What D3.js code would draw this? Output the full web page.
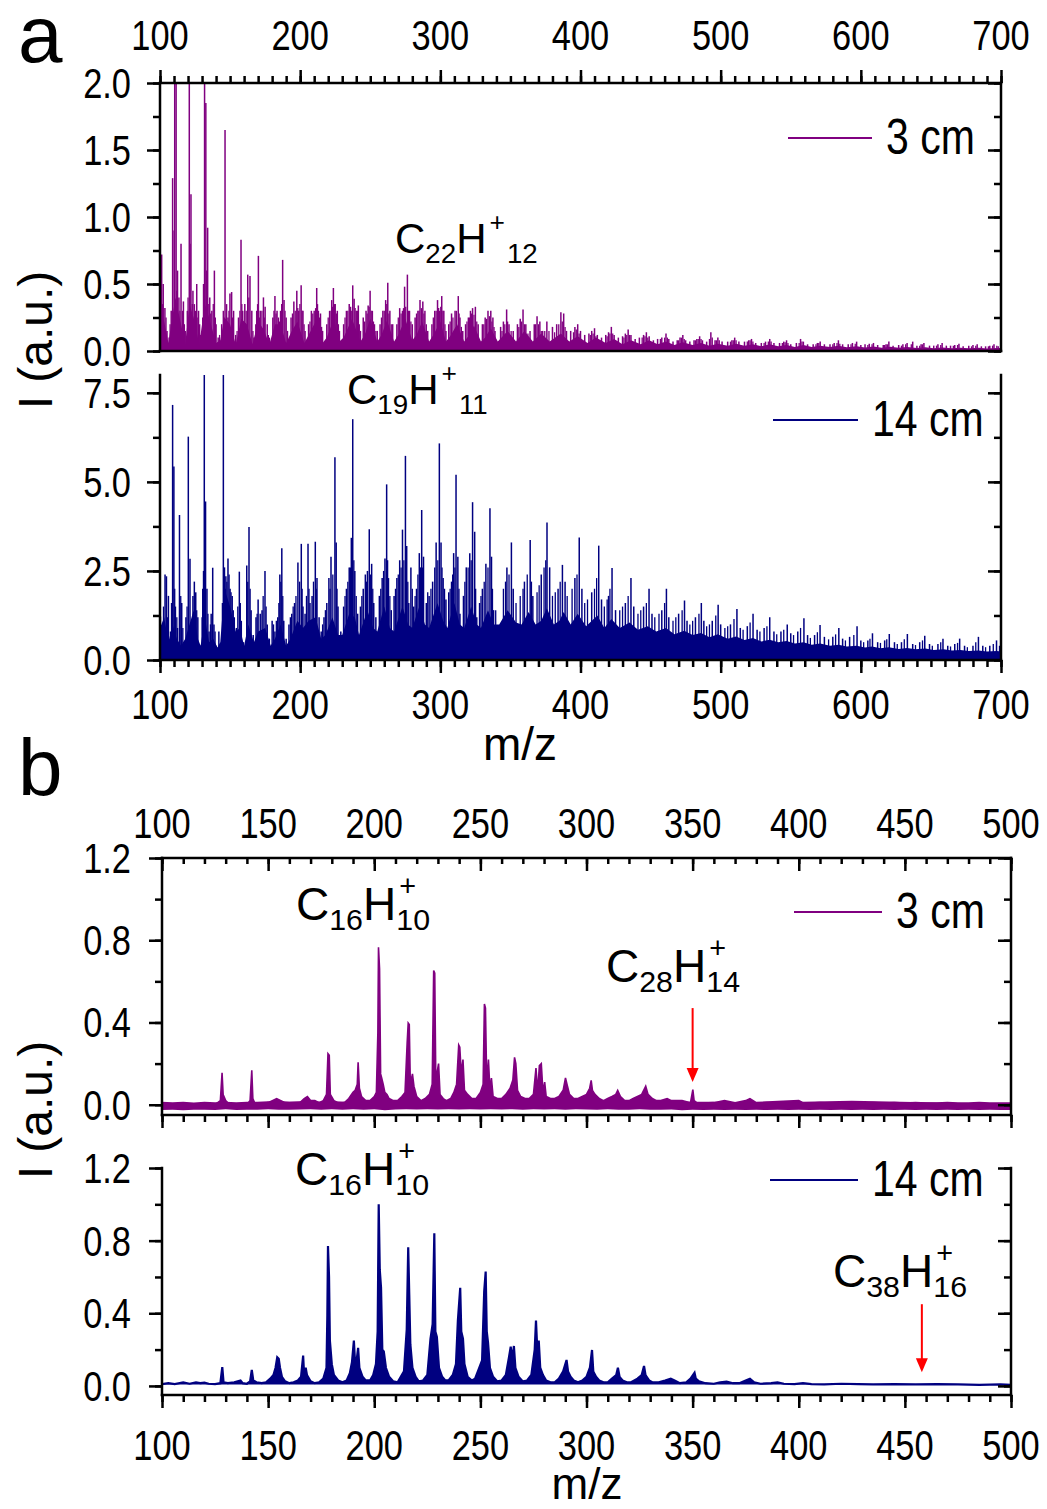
<!DOCTYPE html>
<html>
<head>
<meta charset="utf-8">
<script src="https://cdn.jsdelivr.net/npm/d3@7"></script>
<style>
  body { margin: 0; background: #fff; }
  svg { display: block; }
</style>
</head>
<body>
<svg id="fig" width="1047" height="1509"></svg>
<script>
// ---------------- data ----------------
var xTicksA = [100, 200, 300, 400, 500, 600, 700];
var xTicksB = [100, 150, 200, 250, 300, 350, 400, 450, 500];
var yTicksA3 = [0, 0.5, 1.0, 1.5, 2.0];
var yLabelsA3 = ["0.0", "0.5", "1.0", "1.5", "2.0"];
var yTicksA14 = [0, 2.5, 5.0, 7.5];
var yLabelsA14 = ["0.0", "2.5", "5.0", "7.5"];
var yTicksB = [0, 0.4, 0.8, 1.2];
var yLabelsB = ["0.0", "0.4", "0.8", "1.2"];
var seriesNames = ["3 cm", "14 cm"];

// panel a, 3 cm: main peak sticks [m/z, I]
var peaksA3 = [
  [100.5,0.5],[101.2,0.72],[102.3,0.5],[103.5,0.32],[105,0.15],[106.5,0.1],
  [108,0.3],[109,1.29],[110.5,2.6],[111.5,2.4],[112.5,0.6],[113.5,0.4],[115,0.8],[116.7,0.37],[118,0.15],
  [119.5,0.3],[120.9,2.6],[122.1,1.17],[123.5,0.45],[124.5,0.35],[126.2,0.5],[127.5,0.3],[129,0.12],
  [130.5,0.25],[131.8,2.6],[132.7,1.85],[134,0.92],[135.5,0.4],[137,0.3],[138.8,0.6],[140,0.2],[141.5,0.1],
  [144,0.2],[145.2,0.3],[146.4,1.65],[147.5,0.35],[148.5,0.25],[149.9,0.43],[151.1,0.44],[152.5,0.3],[154,0.12],
  [156,0.25],[157.8,0.83],[159,0.3],[160.5,0.35],[162.6,0.57],[164.2,0.56],[165.5,0.3],[167,0.1],
  [169,0.3],[170.2,0.71],[171.5,0.3],[173.8,0.4],[175,0.33],[176.5,0.2],[178,0.1],
  [180.5,0.25],[182,0.41],[183.5,0.3],[186,0.3],[187.5,0.68],[188.5,0.38],[190,0.25],
  [193.5,0.25],[195.5,0.37],[197.6,0.45],[199,0.3],[200.7,0.49],[202,0.3],[203.5,0.15],
  [206,0.2],[208,0.3],[210,0.3],[211.8,0.47],[213,0.3],[214.5,0.28],[216,0.15],
  [219,0.2],[221,0.3],[222.5,0.38],[223.7,0.47],[225,0.35],[226.5,0.3],[228,0.15],
  [231,0.2],[233,0.3],[235,0.35],[237.5,0.49],[238.5,0.39],[240,0.3],[241.5,0.34],[243,0.15],
  [245,0.25],[247,0.3],[248.5,0.34],[249.9,0.45],[251.5,0.3],[253,0.2],[255,0.15],
  [257,0.2],[259,0.3],[261,0.38],[262.5,0.51],[264,0.3],[266,0.2],
  [269,0.2],[271,0.32],[273,0.3],[274.5,0.48],[276.5,0.57],[278,0.3],[280,0.2],
  [282,0.25],[284,0.3],[285.5,0.38],[287.5,0.37],[289,0.3],[291,0.15],
  [294,0.2],[296,0.3],[298,0.38],[299.5,0.3],[301,0.41],[302.5,0.3],[304,0.15],
  [306,0.2],[308,0.28],[310.5,0.3],[312.8,0.41],[314,0.25],[316,0.15],
  [318,0.2],[320,0.25],[321.5,0.3],[323,0.32],[325,0.33],[327,0.2],
  [330,0.2],[332,0.25],[334,0.3],[336,0.3],[337.5,0.25],[339,0.15],
  [343,0.18],[345,0.22],[347.3,0.31],[349,0.2],[352,0.15],
  [355,0.2],[357,0.24],[359,0.31],[361,0.2],[364,0.15],
  [367,0.2],[369,0.26],[371,0.22],[373,0.15],[376,0.22],
  [380,0.18],[383,0.2],[386,0.29],[388,0.28],[390,0.15],
  [393,0.15],[396,0.18],[398,0.2],[400,0.15],[403,0.12],
  [406,0.13],[408,0.15],[410,0.17],[412,0.12],[415,0.1],
  [418,0.12],[420,0.14],[422,0.18],[424,0.12],[427,0.1],
  [430,0.11],[432,0.13],[434,0.16],[436,0.12],[439,0.09],
  [442,0.1],[445,0.12],[447,0.14],[449,0.11],[452,0.08],
  [455,0.09],[458,0.1],[461,0.13],[463,0.09],[466,0.07],
  [469,0.08],[471,0.1],[473,0.12],[475,0.08],[478,0.07],
  [481,0.08],[483,0.09],[485,0.11],[487,0.08],[490,0.07],
  [493,0.14],[496,0.08],[498,0.1],[501,0.07],
  [505,0.07],[508,0.08],[510,0.1],[513,0.07],
  [517,0.07],[520,0.08],[522,0.09],[525,0.06],
  [529,0.06],[532,0.07],[535,0.09],[538,0.06],
  [542,0.06],[545,0.07],[547,0.08],[550,0.05],
  [554,0.06],[557,0.09],[559,0.07],[562,0.05],
  [566,0.05],[569,0.06],[571,0.07],[574,0.05],
  [578,0.05],[581,0.06],[584,0.08],[587,0.05],
  [591,0.05],[594,0.06],[597,0.07],[600,0.045],
  [603,0.05],[606,0.055],[609,0.06],[612,0.045],
  [616,0.045],[618,0.05],[620,0.07],[623,0.04],
  [627,0.045],[630,0.05],[633,0.06],[637,0.07],
  [640,0.04],[643,0.05],[645,0.06],[649,0.04],
  [652,0.04],[655,0.05],[658,0.06],[661,0.04],
  [664,0.04],[667,0.045],[670,0.055],[673,0.035],
  [677,0.04],[680,0.045],[683,0.05],[686,0.035],
  [689,0.035],[692,0.04],[695,0.05],[698,0.035]
];
// panel a, 3 cm: smaller peaks filling the clusters
var minorA3 = [
  [101.8,0.35],[104.3,0.25],[107.2,0.2],[110,0.9],[112,0.45],[114.2,0.3],[116,0.3],[117.4,0.2],[120,0.4],[121.5,0.8],
  [123,0.35],[125.3,0.3],[127,0.25],[128.3,0.2],[131,0.5],[133.3,0.6],[134.8,0.35],[136.2,0.28],[138,0.35],[139.5,0.25],
  [142.5,0.12],[145.8,0.25],[149.2,0.3],[151.8,0.25],[155,0.15],[157,0.3],[158.4,0.35],[161.5,0.3],[163.4,0.4],[166.3,0.15],
  [168.3,0.2],[169.6,0.35],[171,0.25],[172.7,0.3],[174.4,0.25],[177.3,0.12],[181.3,0.3],[182.8,0.28],[184.5,0.25],[185.2,0.22],
  [186.8,0.35],[189.2,0.3],[191,0.15],[194.5,0.28],[196.5,0.3],[198.3,0.32],[199.8,0.35],[201.4,0.3],[202.8,0.2],[207,0.22],
  [209,0.28],[211,0.32],[212.4,0.35],[213.8,0.25],[215.3,0.18],[220,0.25],[222,0.3],[223,0.33],[224.4,0.35],[225.8,0.28],
  [227.3,0.2],[232,0.25],[234,0.3],[236,0.33],[236.8,0.3],[239.2,0.32],[240.8,0.3],[242.2,0.2],[246,0.22],[247.8,0.28],
  [249.2,0.33],[250.7,0.3],[252.3,0.22],[254,0.15],[258,0.25],[260,0.3],[261.8,0.35],[263.3,0.28],[265,0.2],[270,0.25],
  [272,0.28],[273.7,0.32],[275.3,0.33],[277.3,0.3],[279,0.22],[283,0.28],[284.8,0.3],[286.5,0.32],[288.3,0.28],[290,0.2],
  [295,0.25],[297,0.3],[298.8,0.32],[300.3,0.33],[301.8,0.3],[303.3,0.2],[307,0.22],[309,0.25],[311.5,0.3],[313.4,0.28],
  [315,0.18],[319,0.22],[320.8,0.25],[322.3,0.28],[324,0.27],[326,0.22],[331,0.2],[333,0.24],[335,0.26],[336.8,0.22],
  [338.3,0.18],[344,0.15],[346,0.2],[348,0.22],[350.5,0.15],[356,0.18],[358,0.22],[360,0.2],[362.5,0.13],[368,0.2],
  [370,0.2],[372,0.15],[374.5,0.15],[377.5,0.15],[381.5,0.14],[384.5,0.2],[387,0.22],[389,0.18],[395,0.14],[397,0.16],
  [399,0.13],[407,0.12],[409,0.13],[411,0.11],[419,0.11],[421,0.13],[423,0.13],[431,0.1],[433,0.12],[435,0.12],
  [444,0.1],[446,0.11],[448,0.1],[457,0.09],[460,0.1],[462,0.1],[470,0.08],[472,0.1],[474,0.09],[482,0.08],
  [484,0.09],[486,0.09],[492,0.09],[494,0.1],[497,0.08],[499,0.08],[507,0.07],[509,0.08],[511,0.08],[519,0.07],
  [521,0.08],[523,0.07],[531,0.06],[534,0.07],[536,0.07],[544,0.06],[546,0.065],[548,0.06],[556,0.06],[558,0.07],
  [568,0.05],[570,0.06],[580,0.05],[583,0.06],[585,0.055],[593,0.05],[596,0.055],[605,0.045],[608,0.05],[617,0.045],
  [619,0.05],[629,0.04],[632,0.05],[636,0.05],[642,0.04],[644,0.05],[654,0.04],[657,0.045],[666,0.04],[669,0.045],
  [679,0.035],[682,0.04],[691,0.035],[694,0.04],[697,0.04]
];
// panel a, 3 cm: top of the solid band under the peaks
var floorA3 = [
  [100,0.3],[103,0.22],[106,0.06],[108,0.2],[111,0.4],[114,0.25],[118,0.05],[121,0.35],[124,0.25],[128,0.05],
  [132,0.35],[135,0.25],[140,0.06],[143,0.08],[146,0.25],[150,0.2],[154,0.05],[158,0.24],[162,0.2],[166,0.05],
  [170,0.22],[174,0.16],[178,0.05],[182,0.2],[186,0.2],[190,0.06],[194,0.15],[198,0.22],[203,0.06],[206,0.12],
  [211,0.22],[216,0.06],[219,0.1],[224,0.24],[228,0.07],[231,0.1],[237,0.24],[243,0.07],[246,0.12],[250,0.24],
  [255,0.07],[258,0.12],[262,0.23],[267,0.07],[270,0.12],[275,0.24],[280,0.08],[283,0.12],[287,0.22],[292,0.07],
  [295,0.12],[300,0.22],[304,0.07],[307,0.11],[312,0.2],[317,0.07],[320,0.11],[324,0.19],[329,0.07],[332,0.1],
  [336,0.17],[341,0.07],[348,0.15],[354,0.07],[360,0.15],[366,0.07],[372,0.13],[378,0.07],[386,0.13],[392,0.07],
  [398,0.11],[405,0.06],[411,0.1],[418,0.06],[424,0.09],[430,0.05],[436,0.08],[443,0.05],[449,0.08],[455,0.05],
  [461,0.07],[467,0.045],[473,0.065],[480,0.045],[486,0.06],[492,0.04],[498,0.055],[505,0.04],[511,0.055],[517,0.04],
  [523,0.05],[529,0.035],[535,0.05],[541,0.035],[547,0.045],[553,0.03],[559,0.045],[565,0.03],[571,0.04],[578,0.03],
  [584,0.04],[590,0.028],[597,0.035],[603,0.026],[609,0.033],[615,0.025],[621,0.032],[627,0.024],[633,0.03],[640,0.022],
  [646,0.028],[652,0.021],[658,0.027],[665,0.02],[671,0.025],[677,0.02],[684,0.024],[690,0.019],[697,0.022],[700,0.022]
];

// panel a, 14 cm: main peak sticks [m/z, I]
var peaksA14 = [
  [100.3,1.22],[101.5,0.6],[103.6,2.4],[104.6,2.35],[106,1.8],[107.5,0.8],[109,7.16],[109.9,5.43],[111,1.5],[112.5,0.9],
  [113.9,4.07],[115.5,1.6],[117,0.5],[118.5,1.2],[120.2,6.27],[121.4,2.84],[122.3,0.5],[123.5,1.8],[124.5,2.2],[125.5,1.9],
  [127,1.2],[128.5,0.4],[130.5,2.0],[131.6,9],[132.5,4.45],[133.5,2.0],[135,0.8],[136.5,1.3],[137.6,2.59],[138.5,1.0],
  [140,0.4],[142,0.8],[143.5,0.4],[145.2,9],[146,2.6],[147,2.35],[148.5,2.85],[150,2.0],[151.5,1.8],[153,1.2],
  [154.5,0.9],[156.6,2.48],[158,1.1],[159.5,0.5],[161.9,2.65],[163.5,3.73],[165,1.4],[166.5,0.7],[168.5,1.2],[170,1.7],
  [171.5,1.3],[172.8,1.4],[174.9,2.5],[176.5,1.0],[178,0.6],[180,1.1],[182,0.8],[184,1.2],[185.5,2.4],[186.9,3.14],
  [188.3,1.1],[190,0.6],[192,1.0],[194,1.3],[196,1.6],[198.4,2.74],[200.8,3.26],[202,1.5],[203.5,1.3],[205.6,3.26],
  [207,1.6],[208.5,1.8],[210.8,3.32],[212,2.3],[213.5,1.2],[215,0.8],[217,1.2],[219,1.6],[220.5,2.3],[222,2.9],
  [224.8,5.69],[225.7,3.3],[227,1.5],[229,0.8],[231,1.5],[233,2.0],[235,2.6],[236.5,3.43],[237.5,6.76],[239,2.5],
  [241,1.3],[243,1.5],[245,2.0],[246.5,2.4],[248,2.5],[249.3,3.67],[251,2.7],[252.5,1.6],[254,1.2],[256.5,1.8],
  [258.5,2.3],[260.5,2.85],[261.7,4.93],[263,2.3],[265,1.4],[267,1.8],[269,2.3],[271,2.8],[273,3.66],[275.1,5.73],
  [276,3.2],[277.5,1.6],[279,2.6],[281,1.5],[283,2.0],[285,3.0],[286.7,4.21],[288,2.9],[290,1.6],[292,1.8],
  [294.5,2.2],[297,3.3],[299.3,6.08],[300.5,3.3],[302,2.3],[304,1.7],[306,1.9],[308,2.2],[309.5,3.0],[311.2,5.2],
  [312.5,2.9],[314,1.3],[316.5,1.8],[318.5,2.6],[321,3.0],[323,4.43],[324.5,3.6],[326,1.2],[328,1.6],[330,2.0],
  [332.5,2.7],[335.4,4.26],[336.5,2.9],[338,1.4],
  [347.5,2.6],[350.7,3.3],[352,2.0],[360,2.2],[364.1,3.37],[366,1.8],[372,2.4],[376.1,3.86],[378,2.6],[384,2.0],
  [387.1,2.67],[389,2.2],[396,2.3],[399.1,3.44],[401,2.0],[408,1.9],[413,3.21],[415,1.7],[420,1.8],[422.5,2.58],
  [425,1.4],[432,1.6],[436,2.3],[438,1.5],[445,1.5],[448.9,2.0],[451,1.3],[458,1.4],[461.3,2.0],[463,1.2],
  [470,1.3],[474.2,1.67],[476,1.1],[482,1.2],[486.2,1.6],[488,1.1],[494,1.1],[498.2,1.55],[500,1.0],[507,1.0],
  [511.6,1.43],[514,0.9],[519,0.95],[523.1,1.3],[526,0.85],[531,0.9],[535,1.2],[538,0.8],[543,0.8],[547.5,1.0],
  [550,0.75],[555,0.8],[559.4,1.17],[562,0.7],[567,0.7],[570.9,0.98],[574,0.65],[580,0.65],[584.3,0.9],[587,0.6],
  [592,0.65],[597.3,0.95],[600,0.55],[605,0.55],[608.3,0.75],[612,0.5],[617,0.55],[620.3,0.73],[624,0.5],[629,0.5],
  [633.2,0.73],[637,0.45],[642,0.5],[645.6,0.68],[649,0.45],[655,0.45],[658.6,0.6],[662,0.4],[667,0.45],[670.5,0.6],
  [674,0.4],[680,0.4],[683.9,0.65],[687,0.4],[692,0.4],[696.8,0.55],[699,0.4]
];
var minorA14 = [
  [102.5,1.5],[105.3,1.2],[108.2,1.6],[110.5,2.0],[112,1.2],[114.8,1.8],[116.3,0.9],[119.3,1.5],[122.8,1.0],[126.2,1.4],
  [130,1.2],[131,2.5],[134.2,1.3],[136,1.0],[139.3,0.8],[144.5,1.6],[146.6,2.0],[147.7,2.2],[149.3,2.4],[150.7,1.9],
  [152.3,1.4],[155.5,1.5],[157.3,1.6],[162.6,2.2],[164.3,2.0],[169.3,1.3],[173.6,1.8],[175.7,1.5],[181,1.0],[183,1.1],
  [184.8,1.6],[186.2,2.2],[187.6,1.8],[193,1.2],[195,1.5],[197,1.8],[199.6,2.2],[201.4,2.0],[204.5,1.8],[206.3,2.0],
  [209.5,2.2],[211.5,2.0],[216,1.0],[218,1.4],[221.3,2.0],[223.3,2.4],[226.3,2.0],[232,1.8],[234,2.2],[235.8,2.6],
  [238.3,2.8],[240,1.8],[244,1.8],[247.3,2.2],[250.3,2.4],[251.8,2.0],[257.5,2.0],[259.5,2.5],[262.4,2.8],[264,1.8],
  [268,2.0],[270,2.4],[272,2.6],[274,2.8],[276.8,2.2],[280,2.0],[282,1.8],[284,2.4],[285.8,2.6],[287.4,2.6],
  [291,1.9],[293.3,2.0],[296,2.6],[298.2,2.8],[301.2,2.6],[303,2.0],[307,2.0],[308.8,2.4],[310.4,2.6],[313.3,2.0],
  [317.5,2.2],[319.8,2.6],[322,2.8],[325.2,2.0],[329,1.8],[331.3,2.2],[334,2.6],[337.2,2.0],[339.5,1.4],
  [345,2.0],[346.5,2.2],[349,2.4],[354,1.6],[357,1.8],[359,2.0],[362,2.4],[365,2.2],[369,1.9],[370.5,2.1],
  [374,2.6],[375.2,2.8],[380,1.8],[382,1.9],[385.5,2.2],[390.5,1.8],[394,2.0],[397.5,2.4],[403,1.6],[405,1.7],
  [410,2.0],[411.5,2.3],[417,1.5],[419,1.7],[421,2.0],[428,1.4],[430,1.5],[434,1.8],[441,1.3],[443,1.4],
  [447,1.6],[453,1.2],[456,1.3],[460,1.6],[466,1.1],[468,1.2],[472.5,1.4],[478,1.0],[480,1.1],[484.5,1.3],
  [490,0.95],[492,1.0],[496.5,1.25],[503,0.9],[505,0.95],[509.5,1.15],[516,0.85],[521,1.05],[528,0.8],[533,0.95],
  [540,0.72],[545,0.85],[552,0.7],[557,0.9],[564,0.62],[569,0.78],[577,0.58],[582,0.72],[589,0.55],[595,0.7],
  [602,0.5],[606.5,0.6],[614,0.48],[618.5,0.58],[626,0.45],[631,0.58],[639,0.42],[644,0.55],[651,0.4],[657,0.5],
  [664,0.38],[669,0.48],[676,0.36],[682,0.5],[689,0.36],[694.5,0.45]
];
var floorA14 = [
  [100,0.9],[103,1.2],[106,0.5],[109,1.0],[112,0.6],[115,0.4],[118,0.6],[121,1.0],[124,1.4],[127,0.6],
  [129,0.4],[132,1.2],[135,0.5],[138,0.6],[141,0.35],[143,0.5],[146,2.0],[150,1.5],[154,0.8],[157,0.9],
  [160,0.4],[163,1.0],[167,0.5],[170,0.8],[175,0.9],[179,0.4],[182,0.6],[186,1.0],[190,0.4],[193,0.6],
  [198,1.1],[202,0.9],[206,1.1],[211,1.2],[215,0.6],[218,0.7],[223,1.2],[227,0.7],[230,0.7],[235,1.3],
  [239,1.2],[242,0.7],[248,1.4],[252,0.9],[255,0.8],[260,1.5],[264,0.9],[267,0.8],[273,1.5],[277,1.0],
  [280,0.9],[285,1.5],[289,1.0],[292,0.9],[298,1.6],[302,1.1],[305,0.9],[310,1.6],[314,1.0],[317,0.9],
  [322,1.5],[326,1.0],[329,0.9],[334,1.4],[338,1.0],[342,1.0],[348,1.4],[354,1.05],[358,1.0],[363,1.35],
  [368,1.0],[372,1.1],[376,1.45],[381,1.0],[385,1.1],[388,1.35],[393,1.0],[398,1.3],[404,0.95],[412,1.25],
  [417,0.9],[422,1.15],[428,0.9],[435,1.05],[441,0.85],[448,0.95],[454,0.8],[461,0.9],[467,0.72],[474,0.82],
  [480,0.7],[486,0.76],[492,0.64],[498,0.72],[505,0.6],[511,0.66],[517,0.56],[523,0.62],[529,0.52],[535,0.57],
  [541,0.5],[547,0.53],[553,0.46],[559,0.5],[565,0.43],[571,0.46],[578,0.4],[584,0.43],[590,0.38],[597,0.4],
  [603,0.35],[608,0.38],[614,0.33],[620,0.36],[627,0.31],[633,0.34],[639,0.3],[646,0.32],[652,0.28],[659,0.3],
  [665,0.27],[671,0.28],[677,0.25],[684,0.27],[690,0.24],[697,0.25],[700,0.24]
];

// panel b, 3 cm: trace [m/z, I] and noise band [m/z, low, high]
var traceB3 = [
  [100,0],[125,0],[127.5,0.02],[128.3,0.155],[128.8,0.05],[130,0.02],[132,0],[140,0],[141.5,0.02],[142.3,0.167],
  [142.8,0.03],[144,0],[150,0.01],[152,0.02],[154,0.03],[156,0.02],[158,0.01],[165,0.01],[167,0.03],[168.5,0.04],
  [170,0.02],[172,0.02],[174,0.01],[176,0.02],[177.5,0.05],[178.2,0.248],[178.8,0.24],[179.3,0.05],[181,0.02],[183,0.01],
  [186,0.01],[188,0.03],[190,0.06],[191,0.07],[192,0.1],[192.4,0.206],[193,0.08],[194,0.04],[196,0.02],[198,0.02],
  [200,0.04],[201,0.06],[201.7,0.35],[202,0.766],[202.5,0.66],[203,0.15],[203.5,0.13],[204.2,0.1],[205,0.06],[206,0.05],
  [207,0.03],[209,0.02],[211,0.02],[213,0.04],[214.5,0.06],[215.5,0.3],[216,0.397],[216.5,0.39],[217,0.1],[218,0.15],
  [218.7,0.09],[220,0.04],[222,0.02],[224,0.03],[226,0.05],[227.3,0.1],[228,0.653],[228.5,0.64],[229,0.12],[230.3,0.2],
  [231,0.05],[232.5,0.03],[234,0.02],[236,0.03],[237.5,0.06],[238.8,0.1],[239.8,0.29],[240.3,0.28],[241,0.15],[241.8,0.22],
  [242.5,0.07],[244,0.05],[246,0.03],[248,0.03],[250,0.06],[251.3,0.1],[251.9,0.49],[252.4,0.47],[253,0.1],[253.8,0.22],
  [254.5,0.07],[255.2,0.13],[256,0.04],[258,0.03],[260,0.03],[262,0.05],[264,0.08],[265.3,0.12],[266.1,0.23],[266.7,0.2],
  [267.5,0.07],[269,0.04],[271,0.03],[273,0.03],[275,0.05],[276.2,0.178],[277,0.06],[277.8,0.19],[278.7,0.2],[279.5,0.06],
  [280.3,0.11],[281,0.04],[283,0.03],[285,0.03],[287,0.04],[289,0.07],[290.1,0.13],[290.8,0.1],[292,0.05],[294,0.03],
  [296,0.03],[298,0.04],[300,0.05],[301.5,0.08],[302.2,0.118],[302.8,0.07],[304,0.05],[306,0.03],[308,0.02],[310,0.03],
  [312,0.04],[313.8,0.05],[314.7,0.07],[316,0.04],[318,0.02],[320,0.02],[322,0.03],[324,0.04],[326,0.05],[327.9,0.09],
  [329,0.05],[331,0.03],[333,0.02],[335,0.02],[338,0.03],[340,0.02],[345,0.02],[349,0.01],[350.1,0.073],[350.7,0.02],
  [352,0.01],[360,0.01],[365,0.02],[370,0.01],[375,0.02],[377,0.03],[380,0.01],[400,0.02],[402,0.01],[425,0.015],[500,0]
];
var noiseB3 = [
  [100,-0.026,0.014],[105,-0.024,0.012],[110,-0.027,0.015],[115,-0.025,0.011],[120,-0.024,0.014],[125,-0.026,0.012],
  [130,-0.022,0.015],[135,-0.026,0.012],[140,-0.024,0.015],[145,-0.025,0.014],[150,-0.022,0.017],[155,-0.024,0.018],
  [160,-0.025,0.015],[165,-0.023,0.017],[170,-0.022,0.018],[175,-0.024,0.015],[180,-0.022,0.017],[185,-0.024,0.015],
  [190,-0.022,0.018],[195,-0.025,0.015],[200,-0.022,0.018],[205,-0.027,0.016],[210,-0.023,0.018],[215,-0.022,0.018],
  [220,-0.023,0.017],[225,-0.022,0.018],[230,-0.023,0.018],[235,-0.022,0.018],[240,-0.023,0.018],[245,-0.022,0.018],
  [250,-0.023,0.017],[255,-0.022,0.018],[260,-0.023,0.017],[265,-0.022,0.018],[270,-0.025,0.015],[275,-0.022,0.018],
  [280,-0.023,0.016],[285,-0.022,0.015],[290,-0.025,0.016],[295,-0.022,0.015],[300,-0.023,0.016],[305,-0.025,0.014],
  [310,-0.022,0.016],[315,-0.024,0.014],[320,-0.025,0.014],[325,-0.022,0.016],[330,-0.024,0.014],[335,-0.025,0.014],
  [340,-0.023,0.016],[345,-0.027,0.014],[350,-0.024,0.014],[355,-0.026,0.012],[360,-0.024,0.014],[365,-0.026,0.014],
  [370,-0.024,0.012],[375,-0.026,0.014],[380,-0.024,0.012],[385,-0.026,0.014],[390,-0.024,0.012],[395,-0.026,0.014],
  [400,-0.024,0.014],[405,-0.026,0.012],[410,-0.024,0.014],[415,-0.026,0.012],[420,-0.024,0.014],[425,-0.026,0.014],
  [430,-0.024,0.012],[435,-0.026,0.014],[440,-0.024,0.012],[445,-0.026,0.014],[450,-0.024,0.012],[455,-0.026,0.014],
  [460,-0.024,0.012],[465,-0.026,0.012],[470,-0.024,0.014],[475,-0.026,0.012],[480,-0.024,0.012],[485,-0.026,0.014],
  [490,-0.024,0.012],[495,-0.026,0.012],[500,-0.026,0.012]
];

// panel b, 14 cm: trace [m/z, I]
var traceB14 = [
  [100,0.01],[103,0.015],[106,0.01],[110,0.02],[113,0.012],[116,0.02],[118,0.015],[120,0.018],[122,0.012],[125,0.01],
  [127.5,0.015],[128.4,0.103],[129,0.02],[131,0.015],[134,0.02],[137,0.03],[138,0.015],[140,0.012],[141.5,0.025],[142.3,0.088],
  [143,0.03],[144.5,0.02],[147,0.015],[149,0.02],[151,0.04],[152.5,0.06],[153.5,0.1],[154.3,0.158],[155,0.15],[155.6,0.1],
  [156.5,0.05],[158,0.025],[160,0.015],[162,0.02],[164,0.03],[165.5,0.05],[166.5,0.167],[167,0.05],[167.7,0.1],[168.3,0.06],
  [170,0.025],[172,0.015],[174,0.02],[176,0.04],[177.5,0.1],[177.9,0.39],[178.2,0.77],[178.7,0.6],[179.1,0.25],[180,0.12],
  [181,0.06],[183,0.03],[185,0.02],[187,0.03],[188.5,0.07],[189.5,0.13],[190.4,0.25],[191,0.12],[191.8,0.15],[192.4,0.21],
  [193,0.1],[194.5,0.05],[196,0.03],[198,0.03],[199.5,0.06],[200.8,0.12],[201.6,0.3],[202.1,1.0],[202.6,0.64],[203.2,0.54],
  [203.8,0.2],[204.5,0.19],[205.5,0.1],[207,0.05],[209,0.025],[211,0.02],[212.5,0.05],[214,0.08],[215.3,0.31],[216,0.763],
  [216.5,0.5],[217,0.23],[218,0.1],[219.5,0.05],[221,0.025],[223,0.03],[225,0.06],[226.5,0.26],[227.5,0.34],[228.3,0.84],
  [228.8,0.3],[229.5,0.27],[230.5,0.1],[232,0.05],[233.5,0.03],[235,0.03],[237,0.06],[238.5,0.12],[239.4,0.36],[240.5,0.54],
  [241,0.3],[241.8,0.26],[242.5,0.12],[244,0.05],[246,0.03],[247.5,0.04],[249.5,0.1],[250.8,0.14],[251.8,0.52],[252.5,0.63],
  [253,0.3],[253.6,0.24],[254.5,0.1],[256,0.05],[258,0.025],[260,0.03],[262,0.06],[263.5,0.16],[264.3,0.216],[265,0.14],
  [265.8,0.22],[266.5,0.1],[268,0.05],[270,0.025],[272,0.03],[274,0.06],[275.6,0.2],[276.2,0.36],[276.8,0.2],[277.5,0.25],
  [278.2,0.1],[279.5,0.06],[281,0.03],[283,0.02],[285,0.02],[287,0.04],[289,0.08],[290.6,0.143],[291.3,0.08],[292.5,0.05],
  [294,0.03],[296,0.02],[298,0.03],[300,0.05],[301.6,0.1],[302.6,0.198],[303.2,0.08],[304.5,0.05],[306,0.03],[308,0.02],
  [310,0.02],[312,0.04],[314,0.06],[314.8,0.1],[315.6,0.05],[317,0.03],[319,0.02],[321,0.02],[324,0.04],[326,0.06],
  [327.1,0.11],[327.8,0.06],[329.5,0.03],[331,0.02],[334,0.02],[337,0.03],[339.7,0.04],[341.5,0.03],[344,0.015],[347,0.02],
  [349,0.04],[350.9,0.073],[351.5,0.04],[353,0.025],[356,0.015],[360,0.012],[363,0.02],[366,0.024],[369,0.015],[372,0.015],
  [375,0.03],[377,0.04],[379,0.02],[382,0.012],[387,0.015],[390,0.02],[393,0.012],[398,0.01],[402,0.015],[406,0.01],
  [412,0.008],[420,0.012],[428,0.01],[435,0.008],[445,0.01],[455,0.008],[465,0.01],[475,0.008],[485,0.006],[495,0.008],[500,0.006]
];

// formula labels and red arrows
var labelsA = [
  { n1: "22", n2: "12", x: 395, y: 253 },
  { n1: "19", n2: "11", x: 347, y: 404 }
];
var labelsB = [
  { n1: "16", n2: "10", x: 296, y: 920 },
  { n1: "28", n2: "14", x: 606, y: 982 },
  { n1: "16", n2: "10", x: 295, y: 1185 },
  { n1: "38", n2: "16", x: 833, y: 1287 }
];
var arrowsB = [
  { panel: "b3", mz: 350, from: 0.47, to: 0.11 },
  { panel: "b14", mz: 458, from: 0.45, to: 0.075 }
];

// ---------------- setup ----------------
var purple = "#800080", navy = "#000080";
var svg = d3.select("#fig");
var reg = '"Liberation Sans", Arial, sans-serif';

function hasFont(name) {
  var c = document.createElement("canvas").getContext("2d");
  c.font = "40px monospace";
  var w0 = c.measureText("100 cm").width;
  c.font = '40px "' + name + '", monospace';
  return c.measureText("100 cm").width !== w0;
}
var hasNarrow = hasFont("Liberation Sans Narrow");
var nFamily = hasNarrow ? '"Liberation Sans Narrow"' : reg;
var nScale = hasNarrow ? 1 : 0.82;

function nText(x, y, str, size, anchor) {
  svg.append("text")
    .attr("transform", "translate(" + x + "," + y + ") scale(" + nScale + ",1)")
    .attr("text-anchor", anchor)
    .attr("font-family", nFamily)
    .attr("font-size", size)
    .text(str);
}

function ticks(orient, scale, values, len, tx, ty) {
  var fn = { top: d3.axisTop, bottom: d3.axisBottom, left: d3.axisLeft, right: d3.axisRight }[orient];
  var g = svg.append("g")
    .attr("transform", "translate(" + tx + "," + ty + ")")
    .call(fn(scale).tickValues(values).tickSize(len).tickFormat(""));
  g.select(".domain").remove();
  g.selectAll("line").attr("stroke", "#000").attr("stroke-width", 2.5);
}

function frameLine(x1, y1, x2, y2) {
  svg.append("line").attr("x1", x1).attr("y1", y1).attr("x2", x2).attr("y2", y2)
    .attr("stroke", "#000").attr("stroke-width", 2.5).attr("stroke-linecap", "square");
}

function clip(id, x0, y0, x1, y1) {
  svg.append("clipPath").attr("id", id).append("rect")
    .attr("x", x0).attr("y", y0).attr("width", x1 - x0).attr("height", y1 - y0);
  return svg.append("g").attr("clip-path", "url(#" + id + ")");
}

function drawSticks(g, x, y, floor, peaks, color, width) {
  g.append("path").datum(floor)
    .attr("d", d3.area().x(function(d) { return x(d[0]); }).y0(y(0)).y1(function(d) { return y(d[1]); }))
    .attr("fill", color);
  g.selectAll(null).data(peaks).enter().append("line")
    .attr("x1", function(d) { return x(d[0]); })
    .attr("x2", function(d) { return x(d[0]); })
    .attr("y1", y(0))
    .attr("y2", function(d) { return y(d[1]); })
    .attr("stroke", color)
    .attr("stroke-width", width);
}

function legend(x1, x2, y, color, str) {
  svg.append("line").attr("x1", x1).attr("x2", x2).attr("y1", y).attr("y2", y)
    .attr("stroke", color).attr("stroke-width", 2);
  nText(x2 + 14, y + 16, str, 50, "start");
}

function formula(d, stacked, big) {
  var small = big * 0.66;
  var g = svg.append("g").attr("font-family", reg).attr("fill", "#000");
  var c = g.append("text").attr("x", d.x).attr("y", d.y).attr("font-size", big).text("C");
  var x = d.x + c.node().getComputedTextLength();
  var s1 = g.append("text").attr("x", x).attr("y", d.y + 10).attr("font-size", small).text(d.n1);
  x += s1.node().getComputedTextLength();
  var h = g.append("text").attr("x", x).attr("y", d.y).attr("font-size", big).text("H");
  x += h.node().getComputedTextLength();
  var p = g.append("text").attr("x", x + 3).attr("y", d.y - big * 0.52)
    .attr("font-size", small * 0.95).text("+");
  var px = stacked ? x : x + 5 + p.node().getComputedTextLength();
  g.append("text").attr("x", px).attr("y", d.y + 10).attr("font-size", small).text(d.n2);
}

// ---------------- panel a ----------------
var xA = d3.scaleLinear().domain([100, 700]).range([160, 1001]);
var yA3 = d3.scaleLinear().domain([0, 2]).range([351, 83]);
var yA14 = d3.scaleLinear().domain([0, 8]).range([660, 375]);
var minorXA = d3.range(100, 701, 10);

var gA3 = clip("clipA3", 160, 83, 1001, 351);
drawSticks(gA3, xA, yA3, floorA3, minorA3, purple, 1.3);
drawSticks(gA3, xA, yA3, [], peaksA3, purple, 1.5);
var gA14 = clip("clipA14", 160, 375, 1001, 660);
drawSticks(gA14, xA, yA14, floorA14, minorA14, navy, 1.3);
drawSticks(gA14, xA, yA14, [], peaksA14, navy, 1.5);

// a, 3 cm frame and ticks
frameLine(160, 83, 1001, 83);
frameLine(160, 83, 160, 351);
frameLine(1001, 83, 1001, 351);
frameLine(160, 351, 1001, 351);
ticks("top", xA, minorXA, 7, 0, 83);
ticks("top", xA, xTicksA, 13, 0, 83);
ticks("left", yA3, d3.range(0, 2.01, 0.25), 7, 160, 0);
ticks("left", yA3, yTicksA3, 13, 160, 0);
ticks("left", yA3, d3.range(0, 2.01, 0.25), 7, 1001, 0);
ticks("left", yA3, yTicksA3, 13, 1001, 0);
xTicksA.forEach(function(v) { nText(xA(v), 50, String(v), 42, "middle"); });
yTicksA3.forEach(function(v, i) { nText(131, yA3(v) + 15, yLabelsA3[i], 42, "end"); });

// a, 14 cm frame and ticks
frameLine(160, 375, 160, 660);
frameLine(1001, 375, 1001, 660);
frameLine(160, 660, 1001, 660);
ticks("bottom", xA, minorXA, 7, 0, 660);
ticks("bottom", xA, xTicksA, 13, 0, 660);
ticks("left", yA14, d3.range(0, 7.6, 1.25), 7, 160, 0);
ticks("left", yA14, yTicksA14, 13, 160, 0);
ticks("left", yA14, d3.range(0, 7.6, 1.25), 7, 1001, 0);
ticks("left", yA14, yTicksA14, 13, 1001, 0);
xTicksA.forEach(function(v) { nText(xA(v), 719, String(v), 42, "middle"); });
yTicksA14.forEach(function(v, i) { nText(131, yA14(v) + 15, yLabelsA14[i], 42, "end"); });

legend(788, 872, 138, purple, seriesNames[0]);
legend(773, 858, 420, navy, seriesNames[1]);
labelsA.forEach(function(d) { formula(d, false, 42); });

// ---------------- panel b ----------------
var xB = d3.scaleLinear().domain([100, 500]).range([162, 1011]);
var yB3 = d3.scaleLinear().domain([-0.05, 1.2]).range([1115, 858]);
var yB14 = d3.scaleLinear().domain([-0.05, 1.2]).range([1395, 1168]);
var minorXB = d3.range(100, 501, 10);

var gB3 = clip("clipB3", 162, 858, 1011, 1115);
gB3.append("path").datum(noiseB3)
  .attr("d", d3.area().x(function(d) { return xB(d[0]); })
    .y0(function(d) { return yB3(d[1]); }).y1(function(d) { return yB3(d[2]); }))
  .attr("fill", purple);
gB3.append("path").datum(traceB3)
  .attr("d", d3.area().x(function(d) { return xB(d[0]); }).y0(yB3(0)).y1(function(d) { return yB3(d[1]); }))
  .attr("fill", purple);
gB3.append("path").datum(traceB3)
  .attr("d", d3.line().x(function(d) { return xB(d[0]); }).y(function(d) { return yB3(d[1]); }))
  .attr("fill", "none").attr("stroke", purple).attr("stroke-width", 1.6);

var gB14 = clip("clipB14", 162, 1168, 1011, 1395);
gB14.append("path").datum(traceB14)
  .attr("d", d3.area().x(function(d) { return xB(d[0]); }).y0(yB14(0.008)).y1(function(d) { return yB14(d[1]); }))
  .attr("fill", navy);
gB14.append("path").datum(traceB14)
  .attr("d", d3.line().x(function(d) { return xB(d[0]); }).y(function(d) { return yB14(d[1]); }))
  .attr("fill", "none").attr("stroke", navy).attr("stroke-width", 2.2);

// b, 3 cm frame and ticks
frameLine(162, 858, 1011, 858);
frameLine(162, 858, 162, 1115);
frameLine(1011, 858, 1011, 1115);
frameLine(162, 1115, 1011, 1115);
ticks("bottom", xB, minorXB, 6, 0, 858);
ticks("bottom", xB, xTicksB, 13, 0, 858);
ticks("bottom", xB, minorXB, 7, 0, 1115);
ticks("bottom", xB, xTicksB, 13, 0, 1115);
ticks("left", yB3, d3.range(0, 1.21, 0.2), 7, 162, 0);
ticks("left", yB3, yTicksB, 13, 162, 0);
ticks("left", yB3, d3.range(0, 1.21, 0.2), 7, 1011, 0);
ticks("left", yB3, yTicksB, 13, 1011, 0);
xTicksB.forEach(function(v) { nText(xB(v), 838, String(v), 42, "middle"); });
yTicksB.forEach(function(v, i) { nText(131, yB3(v) + 15, yLabelsB[i], 42, "end"); });

// b, 14 cm frame and ticks
frameLine(162, 1168, 162, 1395);
frameLine(1011, 1168, 1011, 1395);
frameLine(162, 1395, 1011, 1395);
ticks("bottom", xB, minorXB, 7, 0, 1395);
ticks("bottom", xB, xTicksB, 13, 0, 1395);
ticks("left", yB14, d3.range(0, 1.21, 0.2), 7, 162, 0);
ticks("left", yB14, yTicksB, 13, 162, 0);
ticks("left", yB14, d3.range(0, 1.21, 0.2), 7, 1011, 0);
ticks("left", yB14, yTicksB, 13, 1011, 0);
xTicksB.forEach(function(v) { nText(xB(v), 1460, String(v), 42, "middle"); });
yTicksB.forEach(function(v, i) { nText(131, yB14(v) + 15, yLabelsB[i], 42, "end"); });

legend(794, 882, 912, purple, seriesNames[0]);
legend(770, 858, 1180, navy, seriesNames[1]);
labelsB.forEach(function(d) { formula(d, true, 46); });

// red arrows
arrowsB.forEach(function(d) {
  var y = d.panel === "b3" ? yB3 : yB14;
  var x = xB(d.mz), y1 = y(d.from), y2 = y(d.to);
  svg.append("line").attr("x1", x).attr("x2", x).attr("y1", y1).attr("y2", y2 - 12)
    .attr("stroke", "#ff0000").attr("stroke-width", 2);
  svg.append("path")
    .attr("d", "M" + (x - 6) + "," + (y2 - 14) + "L" + (x + 6) + "," + (y2 - 14) + "L" + x + "," + y2 + "Z")
    .attr("fill", "#ff0000");
});

// ---------------- titles ----------------
svg.append("text").attr("x", 18).attr("y", 62).attr("font-family", reg).attr("font-size", 80).text("a");
svg.append("text").attr("x", 18).attr("y", 795).attr("font-family", reg).attr("font-size", 80).text("b");
svg.append("text").attr("x", 520).attr("y", 760).attr("text-anchor", "middle")
  .attr("font-family", reg).attr("font-size", 46).text("m/z");
svg.append("text").attr("x", 587).attr("y", 1499).attr("text-anchor", "middle")
  .attr("font-family", reg).attr("font-size", 44).text("m/z");
[340, 1110].forEach(function(cy) {
  svg.append("text").attr("transform", "translate(52," + cy + ") rotate(-90)")
    .attr("text-anchor", "middle").attr("font-family", reg).attr("font-size", 48).text("I (a.u.)");
});
</script>
</body>
</html>
